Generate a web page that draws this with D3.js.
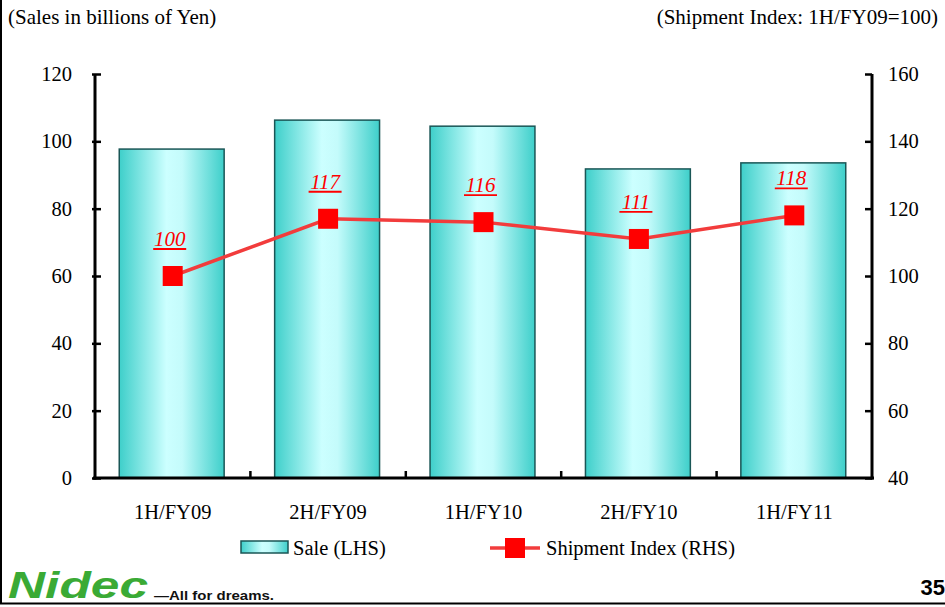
<!DOCTYPE html>
<html><head><meta charset="utf-8">
<script src="https://cdn.jsdelivr.net/npm/d3@7"></script>
<style>body{margin:0;background:#fff}svg{display:block}</style>
</head><body>
<svg id="c" width="945" height="607"></svg>
<script>
const categories = ["1H/FY09","2H/FY09","1H/FY10","2H/FY10","1H/FY11"];
const sales = [97.7, 106.3, 104.5, 91.8, 93.6];
const shipmentIndex = [100, 117, 116, 111, 118];
const leftTicks = [0,20,40,60,80,100,120];
const rightTicks = [40,60,80,100,120,140,160];

const svg = d3.select("#c");
const serif = "'Liberation Serif','Times New Roman',serif";
const FS = 20.5;
const L = 95, R = 872, T = 74, B = 478;

const defs = svg.append("defs");
const g = defs.append("linearGradient").attr("id","bg").attr("x1","0").attr("x2","1").attr("y1","0").attr("y2","0");
g.append("stop").attr("offset","0").attr("stop-color","#3ecfca");
g.append("stop").attr("offset","0.45").attr("stop-color","#ccffff");
g.append("stop").attr("offset","0.6").attr("stop-color","#c4fbfb");
g.append("stop").attr("offset","1").attr("stop-color","#3ecfca");

const x = d3.scaleBand().domain(categories).range([L,R]);
const yL = d3.scaleLinear().domain([0,120]).range([B,T]);
const yR = d3.scaleLinear().domain([40,160]).range([B,T]);
const bw = x.bandwidth()*0.675;

// frame
svg.append("line").attr("x1",1).attr("x2",1).attr("y1",0).attr("y2",604).attr("stroke","#000").attr("stroke-width",2);
svg.append("line").attr("x1",0).attr("x2",945).attr("y1",603.5).attr("y2",603.5).attr("stroke","#000").attr("stroke-width",2);

// titles
svg.append("text").attr("x",8).attr("y",24).attr("font-family",serif).attr("font-size",21).text("(Sales in billions of Yen)");
svg.append("text").attr("x",938).attr("y",24).attr("text-anchor","end").attr("font-family",serif).attr("font-size",21).text("(Shipment Index: 1H/FY09=100)");

// bars
svg.selectAll("rect.bar").data(sales).enter().append("rect").attr("class","bar")
  .attr("x",(d,i)=>x(categories[i])+x.bandwidth()/2-bw/2-1)
  .attr("width",bw)
  .attr("y",d=>yL(d)).attr("height",d=>yL(0)-yL(d))
  .attr("fill","url(#bg)").attr("stroke","#1a5656").attr("stroke-width",1.5);

// axes
const axL = svg.append("g").attr("transform",`translate(${L},0)`)
  .call(d3.axisLeft(yL).tickValues(leftTicks).tickSize(-6).tickPadding(23));
axL.selectAll(".tick line").attr("x1",-3).attr("stroke-width",2.5);
const axR = svg.append("g").attr("transform",`translate(${R},0)`)
  .call(d3.axisRight(yR).tickValues(rightTicks).tickSize(-7).tickPadding(16));
axR.selectAll(".tick line").attr("stroke-width",2.5);
const axB = svg.append("g").attr("transform",`translate(0,${B})`)
  .call(d3.axisBottom(x).tickSize(0).tickPadding(26));
// category boundary ticks
svg.selectAll("line.bt").data(categories.slice(1)).enter().append("line")
  .attr("x1",d=>x(d)).attr("x2",d=>x(d)).attr("y1",B).attr("y2",B-7)
  .attr("stroke","#000").attr("stroke-width",2.5);
[axL,axR,axB].forEach(a=>{
  a.select(".domain").attr("stroke","#000").attr("stroke-width",3);
  a.selectAll("text").attr("font-family",serif).attr("font-size",FS).attr("fill","#000");
});
axB.select(".domain").attr("d",`M${L-2},0H${R+2}`);
axL.select(".domain").attr("d",`M0,${T}V${B+1.5}`);
axR.select(".domain").attr("d",`M0,${T}V${B+1.5}`);

// line
const lineGen = d3.line().x((d,i)=>x(categories[i])+x.bandwidth()/2).y(d=>yR(d));
svg.append("path").datum(shipmentIndex).attr("d",lineGen).attr("fill","none")
  .attr("stroke","#f23c3c").attr("stroke-width",3.5);
svg.selectAll("rect.mk").data(shipmentIndex).enter().append("rect")
  .attr("x",(d,i)=>x(categories[i])+x.bandwidth()/2-10).attr("y",d=>yR(d)-10)
  .attr("width",20).attr("height",20).attr("fill","#ff0000");
const lbl = svg.selectAll("g.lb").data(shipmentIndex).enter().append("g")
  .attr("transform",(d,i)=>`translate(${x(categories[i])+x.bandwidth()/2-3},${yR(d)-30})`);
lbl.append("text").attr("text-anchor","middle").attr("font-family",serif).attr("font-style","italic")
  .attr("font-size",21).attr("fill","#ff0000").text(d=>d);
lbl.append("line").attr("x1",-16.5).attr("x2",16.5).attr("y1",3).attr("y2",3).attr("stroke","#ff0000").attr("stroke-width",1.8);

// legend
svg.append("rect").attr("x",241).attr("y",541).attr("width",47).attr("height",12).attr("fill","url(#bg)").attr("stroke","#1a5656").attr("stroke-width",1.5);
svg.append("text").attr("x",293).attr("y",555).attr("font-family",serif).attr("font-size",FS).text("Sale (LHS)");
svg.append("line").attr("x1",490).attr("x2",540).attr("y1",548).attr("y2",548).attr("stroke","#f23c3c").attr("stroke-width",3.5);
svg.append("rect").attr("x",505).attr("y",538).attr("width",20).attr("height",20).attr("fill","#ff0000");
svg.append("text").attr("x",546).attr("y",555).attr("font-family",serif).attr("font-size",FS).text("Shipment Index (RHS)");

// logo & page number
svg.append("text").attr("x",8).attr("y",598).attr("font-family","'Liberation Sans',Arial,sans-serif")
  .attr("font-weight","bold").attr("font-style","italic").attr("font-size",36).attr("fill","#3aaa35")
  .attr("textLength",140).attr("lengthAdjust","spacingAndGlyphs").text("Nidec");
svg.append("text").attr("x",154).attr("y",600).attr("font-family","'Liberation Sans',Arial,sans-serif")
  .attr("font-weight","bold").attr("font-size",13).attr("fill","#111")
  .attr("textLength",120).attr("lengthAdjust","spacingAndGlyphs").text("—All for dreams.");
svg.append("text").attr("x",945).attr("y",595).attr("text-anchor","end").attr("font-family","'Liberation Sans',Arial,sans-serif")
  .attr("font-weight","bold").attr("font-size",22).text("35");
</script>
</body></html>
